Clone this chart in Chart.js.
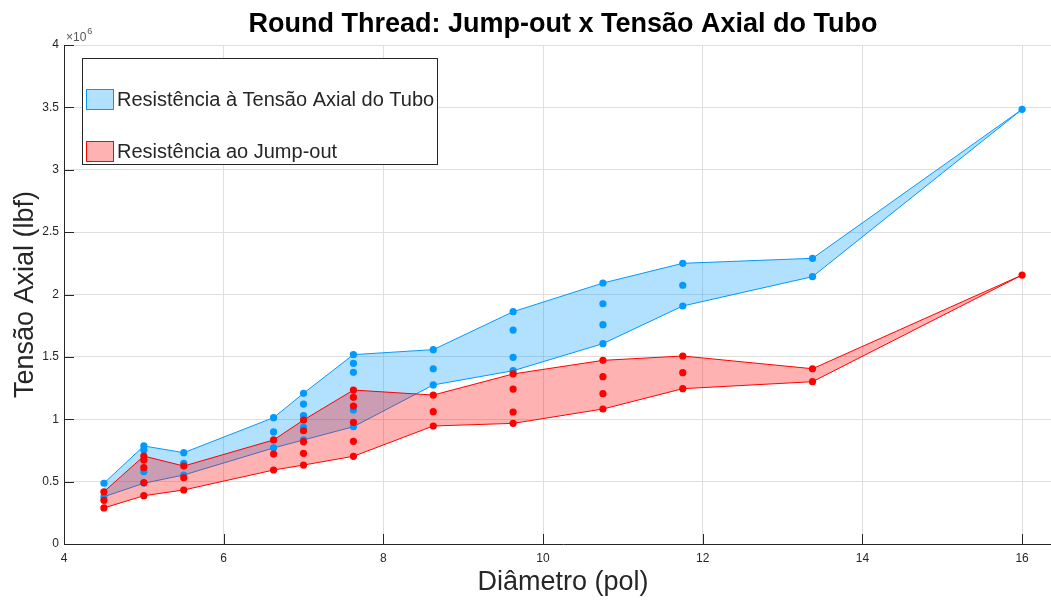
<!DOCTYPE html>
<html lang="pt">
<head>
<meta charset="utf-8">
<title>Round Thread: Jump-out x Tensão Axial do Tubo</title>
<script src="https://cdn.jsdelivr.net/npm/chart.js@4.4.1/dist/chart.umd.min.js"></script>
<style>
  html, body { margin: 0; padding: 0; background: #fff; overflow: hidden; }
  #grafico { display: block; }
</style>
</head>
<body>
<canvas id="grafico" width="1070" height="602"></canvas>
<script>
/* ======================================================
   Round Thread: Jump-out x Tensão Axial do Tubo
   faixas min/max por diâmetro + pontos medidos
====================================================== */

// diâmetros nominais (pol)
const diametros = [4.5, 5, 5.5, 6.625, 7, 7.625, 8.625, 9.625, 10.75, 11.75, 13.375, 16];

// resistência à tensão axial do tubo (lbf), um grupo por diâmetro
const tensaoTubo = [
  [487000, 379000],
  [786000, 754000, 580000, 487000],
  [732000, 647000, 553000],
  [1013000, 898000, 770000],
  [1208000, 1122000, 1029000, 935000, 834000],
  [1518000, 1448000, 1376000, 1074000, 940000],
  [1558000, 1405000, 1275000],
  [1862000, 1715000, 1496000, 1389000],
  [2092000, 1926000, 1758000, 1606000],
  [2250000, 2074000, 1908000],
  [2290000, 2143000],
  [3484000]
];

// resistência ao jump-out (lbf), um grupo por diâmetro
const jumpOut = [
  [419000, 350000, 289000],
  [705000, 673000, 612000, 492000, 387000],
  [625000, 532000, 433000],
  [834000, 721000, 593000],
  [994000, 908000, 820000, 727000, 633000],
  [1234000, 1176000, 1106000, 975000, 823000, 703000],
  [1194000, 1061000, 946000],
  [1363000, 1242000, 1058000, 967000],
  [1472000, 1341000, 1205000, 1082000],
  [1507000, 1373000, 1245000],
  [1405000, 1301000],
  [2156000]
];

const ticksX = [4, 6, 8, 10, 12, 14, 16];
const ticksY = [0, 0.5e6, 1e6, 1.5e6, 2e6, 2.5e6, 3e6, 3.5e6, 4e6];

const legendas = ['Resistência à Tensão Axial do Tubo', 'Resistência ao Jump-out'];

const AZUL = '#0099ff';
const AZUL_FAIXA = 'rgba(0,153,255,0.3)';
const VERMELHO = '#ff0000';
const VERMELHO_FAIXA = 'rgba(255,0,0,0.3)';
const FONTE = "'Liberation Sans', Arial, Helvetica, sans-serif";
const CINZA = '#262626';

const limite = (grupos, fn) => diametros.map((d, i) => ({ x: d, y: fn(...grupos[i]) }));
const pontos = grupos => diametros.flatMap((d, i) => grupos[i].map(v => ({ x: d, y: v })));

function linhaFaixa(dados, cor, fundo, preencher, ordem) {
  return {
    data: dados,
    borderColor: cor,
    borderWidth: 1,
    backgroundColor: fundo,
    pointRadius: 0,
    tension: 0,
    fill: preencher,
    order: ordem
  };
}

function serieMarcadores(dados, cor, ordem) {
  return {
    data: dados,
    showLine: false,
    pointRadius: 3.6,
    pointBorderWidth: 0,
    pointBackgroundColor: cor,
    pointBorderColor: cor,
    order: ordem
  };
}

// marcas de escala para dentro, estilo MATLAB
const marcasInternas = {
  id: 'marcasInternas',
  afterDatasetsDraw(chart) {
    const { ctx, chartArea: a, scales: { x, y } } = chart;
    ctx.save();
    ctx.strokeStyle = CINZA;
    ctx.lineWidth = 1;
    ctx.beginPath();
    x.ticks.forEach(t => {
      const px = Math.round(x.getPixelForValue(t.value)) + 0.5;
      ctx.moveTo(px, a.bottom);
      ctx.lineTo(px, a.bottom - 10);
    });
    y.ticks.forEach(t => {
      const py = Math.round(y.getPixelForValue(t.value)) + 0.5;
      ctx.moveTo(a.left, py);
      ctx.lineTo(a.left + 10, py);
    });
    ctx.stroke();
    ctx.restore();
  }
};

// multiplicador do eixo y (×10^6)
const expoente = {
  id: 'expoente',
  afterDraw(chart) {
    const { ctx, chartArea: a } = chart;
    ctx.save();
    ctx.fillStyle = '#555';
    ctx.textBaseline = 'alphabetic';
    ctx.font = `12px ${FONTE}`;
    ctx.fillText('×10', a.left + 2, a.top - 4);
    const w = ctx.measureText('×10').width;
    ctx.font = `9px ${FONTE}`;
    ctx.fillText('6', a.left + 3 + w, a.top - 11);
    ctx.restore();
  }
};

// legenda com caixa dentro da área do gráfico
const legendaCaixa = {
  id: 'legendaCaixa',
  afterDraw(chart) {
    const { ctx } = chart;
    ctx.save();
    ctx.fillStyle = '#fff';
    ctx.fillRect(82.5, 58.5, 355, 106);
    ctx.strokeStyle = CINZA;
    ctx.lineWidth = 1;
    ctx.strokeRect(82.5, 58.5, 355, 106);

    const itens = [
      { texto: legendas[0], cor: AZUL, fundo: AZUL_FAIXA, y: 89 },
      { texto: legendas[1], cor: VERMELHO, fundo: VERMELHO_FAIXA, y: 141 }
    ];
    ctx.font = `20px ${FONTE}`;
    ctx.textBaseline = 'middle';
    itens.forEach(it => {
      ctx.fillStyle = it.fundo;
      ctx.fillRect(86.5, it.y + 0.5, 27, 20);
      ctx.strokeStyle = it.cor;
      ctx.strokeRect(86.5, it.y + 0.5, 27, 20);
      ctx.fillStyle = CINZA;
      ctx.fillText(it.texto, 117, it.y + 11.5);
    });
    ctx.restore();
  }
};

new Chart(document.getElementById('grafico'), {
  type: 'line',
  data: {
    datasets: [
      linhaFaixa(limite(tensaoTubo, Math.max), AZUL, AZUL_FAIXA, '+1', 4),
      linhaFaixa(limite(tensaoTubo, Math.min), AZUL, AZUL_FAIXA, false, 4),
      linhaFaixa(limite(jumpOut, Math.max), VERMELHO, VERMELHO_FAIXA, '+1', 2),
      linhaFaixa(limite(jumpOut, Math.min), VERMELHO, VERMELHO_FAIXA, false, 2),
      serieMarcadores(pontos(tensaoTubo), AZUL, 1),
      serieMarcadores(pontos(jumpOut), VERMELHO, 0)
    ]
  },
  options: {
    responsive: false,
    animation: false,
    layout: { padding: { left: 0, right: 8, top: 0, bottom: 0 } },
    plugins: {
      legend: { display: false },
      tooltip: { enabled: false },
      title: {
        display: true,
        fullSize: false,
        text: 'Round Thread: Jump-out x Tensão Axial do Tubo',
        color: '#000',
        font: { family: FONTE, size: 27, weight: 'bold' },
        padding: { top: 8, bottom: 4.6 }
      }
    },
    scales: {
      x: {
        type: 'linear',
        min: 4,
        max: 16.5,
        afterBuildTicks: s => { s.ticks = ticksX.map(v => ({ value: v })); },
        afterFit: s => { s.height = 58; },
        ticks: {
          color: CINZA,
          padding: 7,
          font: { family: FONTE, size: 12 }
        },
        grid: { color: '#dfdfdf', drawTicks: false },
        border: { color: CINZA, width: 1 },
        title: {
          display: true,
          text: 'Diâmetro (pol)',
          color: CINZA,
          font: { family: FONTE, size: 27 },
          padding: { top: 0, bottom: 3 }
        }
      },
      y: {
        min: 0,
        max: 4e6,
        afterBuildTicks: s => { s.ticks = ticksY.map(v => ({ value: v })); },
        afterFit: s => { s.width = 64; },
        ticks: {
          color: CINZA,
          padding: 5,
          font: { family: FONTE, size: 12 },
          callback: v => String(v / 1e6)
        },
        grid: { color: '#dfdfdf', drawTicks: false },
        border: { color: CINZA, width: 1 },
        title: {
          display: true,
          text: 'Tensão Axial (lbf)',
          color: CINZA,
          font: { family: FONTE, size: 27 },
          padding: { top: 9, bottom: 0 }
        }
      }
    }
  },
  plugins: [marcasInternas, expoente, legendaCaixa]
});
</script>
</body>
</html>
